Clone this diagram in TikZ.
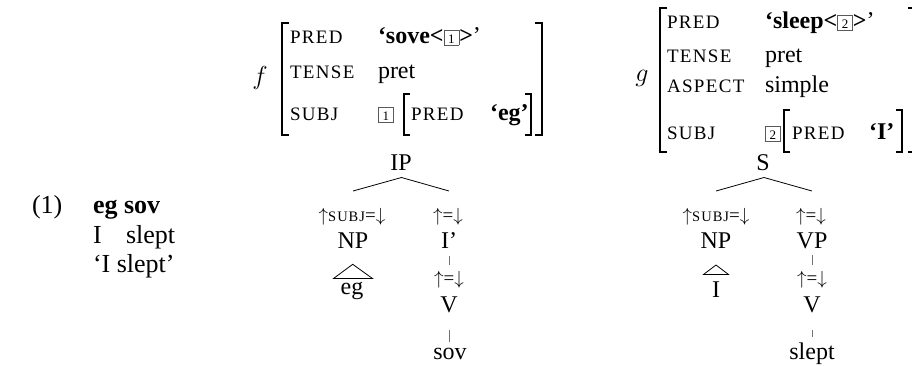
\RequirePackage{fix-cm}
\documentclass[tikz,border=0pt]{standalone}
\usepackage{fontspec}
\setmainfont{Liberation Serif}
\newfontfamily\scf[LetterSpace=7]{Liberation Serif}
\newcommand\scatt{\fontsize{19}{19}\scf}
\newcommand\scsmall[1]{{\fontsize{14.5}{14.5}\scf #1}}
\newcommand\bx[1]{{\setlength\fboxsep{1.2pt}\setlength\fboxrule{0.6pt}\fcolorbox{black!65}{white}{\rule[-0.5pt]{0pt}{12pt}\makebox[12pt]{\fontsize{13}{13}\selectfont\mdseries #1}}}}
\newcommand\upa{$\uparrow$}
\newcommand\dna{$\downarrow$}
\begin{document}
\begin{tikzpicture}[x=1pt,y=-1pt,
  every node/.style={inner sep=0pt,outer sep=0pt},
  ex/.style={anchor=base west,font=\fontsize{26}{26}\selectfont},
  att/.style={anchor=base west,font=\scatt},
  val/.style={anchor=base west,font=\fontsize{24}{24}\selectfont},
  mvar/.style={anchor=center,font=\fontsize{26}{26}\selectfont},
  cat/.style={anchor=base,font=\fontsize{24}{24}\selectfont},
  ann/.style={anchor=base,font=\fontsize{19}{19}\selectfont},
  brk/.style={line width=1.3pt},
  branch/.style={line width=0.8pt},
  unary/.style={line width=0.8pt,black!55},
]
\useasboundingbox (0,0) rectangle (912,365);
\clip (0,0) rectangle (912,365);

% example sentence
\node[ex] (num) at (32,213) {(1)};
\node[ex,font=\fontsize{26}{26}\selectfont\bfseries] (orig) at (93,213) {eg sov};
\node[ex] (gl1) at (93,243) {I};
\node[ex] (gl2) at (126,243) {slept};
\node[ex] (transl) at (93,272) {‘I slept’};

% f-structure f
\node[mvar] (fvar) at (260,78) {$f$};
\draw[brk] (289,23) -- (282,23) -- (282,135) -- (289,135);
\draw[brk] (535,23) -- (542,23) -- (542,135) -- (535,135);
\node[att] (fpred) at (290,43) {PRED};
\node[val] (fpredv) at (378,43) {\textbf{‘sove<}\bx{1}\textbf{>}’};
\node[att] (ftense) at (290,78) {TENSE};
\node[val] (ftensev) at (378,78) {pret};
\node[att] (fsubj) at (290,120) {SUBJ};
\node[val] (fbox) at (378,120) {\bx{1}};
\draw[brk] (410,94) -- (404,94) -- (404,135) -- (410,135);
\draw[brk] (525,94) -- (531,94) -- (531,135) -- (525,135);
\node[att] (fipred) at (411,120) {PRED};
\node[val] (fipredv) at (490,120) {\textbf{‘eg’}};

% f-structure g
\node[mvar] (gvar) at (642,78) {$g$};
\draw[brk] (667,8) -- (660,8) -- (660,152) -- (667,152);
\draw[brk] (908,8) -- (915,8) -- (915,152) -- (908,152);
\node[att] (gpred) at (667,28) {PRED};
\node[val] (gpredv) at (765,28) {\textbf{‘sleep<}\bx{2}\textbf{>}’};
\node[att] (gtense) at (667,62) {TENSE};
\node[val] (gtensev) at (765,62) {pret};
\node[att] (gaspect) at (667,92) {ASPECT};
\node[val] (gaspectv) at (765,92) {simple};
\node[att] (gsubj) at (667,139) {SUBJ};
\node[val] (gbox) at (765,139) {\bx{2}};
\draw[brk] (790,110) -- (784,110) -- (784,152) -- (790,152);
\draw[brk] (896,110) -- (902,110) -- (902,152) -- (896,152);
\node[att] (gipred) at (792,139) {PRED};
\node[val] (gipredv) at (869,139) {\textbf{‘I’}};

% c-structure 1
\node[cat] (IP) at (401,170) {IP};
\coordinate (ipt) at (401.5,177.5);
\coordinate (ipl) at (353,191);
\coordinate (ipr) at (449,191);
\draw[branch] (ipl) -- (ipt) -- (ipr);
\node[ann] (a1) at (352,221) {\upa\scsmall{SUBJ}=\dna};
\node[ann] (a2) at (448,221) {\upa=\dna};
\node[cat] (NP1) at (353,248) {NP};
\node[cat] (Ibar) at (449,248) {I’};
\coordinate (u1a) at (449,256);
\coordinate (u1b) at (449,265);
\draw[unary] (u1a) -- (u1b);
\node[ann] (a3) at (449,284) {\upa=\dna};
\node[cat] (V1) at (449,312) {V};
\coordinate (u2a) at (449,330);
\coordinate (u2b) at (449,342);
\draw[unary] (u2a) -- (u2b);
\node[cat] (sov) at (450,359) {sov};
\draw[branch] (333.5,278.5) -- (352.7,264.3) -- (372.5,278.5) -- cycle;
\node[cat] (eg) at (352,294) {eg};

% c-structure 2
\node[cat] (S) at (763,170) {S};
\coordinate (st) at (764,177.5);
\coordinate (sl) at (716,191);
\coordinate (sr) at (812,191);
\draw[branch] (sl) -- (st) -- (sr);
\node[ann] (a4) at (716,221) {\upa\scsmall{SUBJ}=\dna};
\node[ann] (a5) at (811,221) {\upa=\dna};
\node[cat] (NP2) at (716,248) {NP};
\node[cat] (VP) at (812,248) {VP};
\coordinate (u3a) at (812,255);
\coordinate (u3b) at (812,265);
\draw[unary] (u3a) -- (u3b);
\node[ann] (a6) at (812,284) {\upa=\dna};
\node[cat] (V2) at (812,312) {V};
\coordinate (u4a) at (812,330);
\coordinate (u4b) at (812,337);
\draw[unary] (u4a) -- (u4b);
\node[cat] (slept) at (812,359) {slept};
\draw[branch] (703.5,274.5) -- (716,265) -- (728.5,274.5) -- cycle;
\node[cat] (Ipron) at (716,297) {I};
\end{tikzpicture}
\end{document}
